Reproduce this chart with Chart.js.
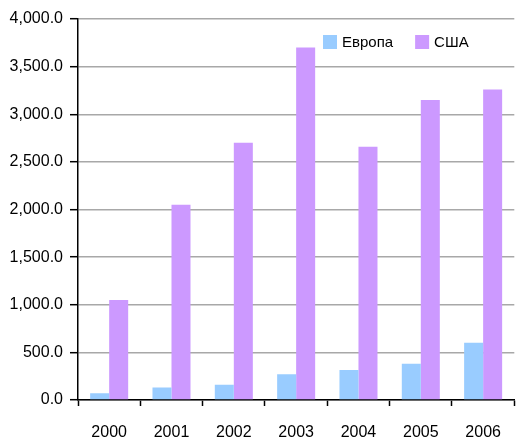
<!DOCTYPE html>
<html>
<head>
<meta charset="utf-8">
<script src="https://cdn.jsdelivr.net/npm/chart.js@4.4.0/dist/chart.umd.min.js"></script>
<style>
  html, body { margin: 0; padding: 0; background: #fff; }
  #wrap { width: 518px; height: 443px; position: relative; }
</style>
</head>
<body>
<div id="wrap"><canvas id="c"></canvas></div>
<script>
// годы и значения серий (оценка по рисунку)
var YEARS = ["2000", "2001", "2002", "2003", "2004", "2005", "2006"];
var EUROPE = [70, 130, 160, 270, 315, 380, 600];
var USA = [1050, 2050, 2700, 3700, 2660, 3150, 3260];
var SERIES_NAMES = ["Европа", "США"];
var SERIES_COLORS = ["#99ccff", "#cc99ff"];

var FONT = "'Liberation Sans', Arial, sans-serif";

/** легенда внутри области графика, справа сверху */
var innerLegend = {
  id: "innerLegend",
  afterDraw: function (chart, args, opts) {
    var ctx = chart.ctx;
    var x = chart.chartArea.left + opts.left;
    var y = chart.chartArea.top + opts.top;
    ctx.save();
    ctx.font = opts.fontSize + "px " + FONT;
    ctx.textBaseline = "middle";
    chart.data.datasets.forEach(function (ds) {
      ctx.fillStyle = ds.backgroundColor;
      ctx.fillRect(x, y, opts.box, opts.box);
      ctx.fillStyle = "#000";
      ctx.fillText(ds.label, x + opts.box + 5, y + opts.box / 2 + 1);
      x += opts.box + 5 + ctx.measureText(ds.label).width + opts.gap;
    });
    ctx.restore();
  },
};

new Chart(document.getElementById("c"), {
  type: "bar",
  data: {
    labels: YEARS,
    datasets: [
      { label: SERIES_NAMES[0], data: EUROPE, backgroundColor: SERIES_COLORS[0] },
      { label: SERIES_NAMES[1], data: USA, backgroundColor: SERIES_COLORS[1] },
    ],
  },
  options: {
    responsive: true,
    maintainAspectRatio: false,
    animation: false,
    layout: { padding: { top: 19, right: 1, left: 0, bottom: 0 } },
    datasets: { bar: { categoryPercentage: 0.61, barPercentage: 1.0, borderWidth: 0 } },
    plugins: {
      legend: { display: false },
      tooltip: { enabled: false },
      innerLegend: { left: 245, top: 16, box: 14, gap: 22, fontSize: 15 },
    },
    scales: {
      x: {
        grid: { drawOnChartArea: false, drawTicks: true, tickLength: 6, tickColor: "#000", tickWidth: 1.5, offset: true },
        border: { color: "#000", width: 1.5 },
        ticks: { color: "#000", font: { family: FONT, size: 16 }, padding: 17 },
        afterFit: function (s) { s.height = 43; },
      },
      y: {
        min: 0,
        max: 4000,
        grid: { color: "#a8a8a8", lineWidth: 1.4, tickLength: 8, tickColor: "#000", tickWidth: 1.5 },
        border: { color: "#000", width: 1.5 },
        ticks: {
          stepSize: 500,
          color: "#000",
          font: { family: FONT, size: 16 },
          padding: 7,
          callback: function (v) {
            return Number(v).toLocaleString("en-US", { minimumFractionDigits: 1, maximumFractionDigits: 1 });
          },
        },
        afterFit: function (s) { s.width = 78; },
      },
    },
  },
  plugins: [innerLegend],
});
</script>
</body>
</html>
